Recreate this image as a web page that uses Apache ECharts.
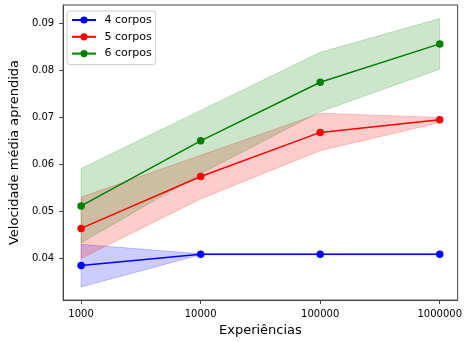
<!DOCTYPE html>
<html>
<head>
<meta charset="utf-8">
<script src="https://cdn.jsdelivr.net/npm/echarts@6/dist/echarts.min.js"></script>
<style>html,body{margin:0;padding:0;background:#fff}#c{width:465px;height:342px}</style>
</head>
<body>
<div id="c"></div>
<script>
const categories = [1000, 10000, 100000, 1000000];
const xTicks = [1000, 10000, 100000, 1000000];
const yTicks = [0.04, 0.05, 0.06, 0.07, 0.08, 0.09];

const names = ['4 corpos', '5 corpos', '6 corpos'];
const v4 = [0.0384, 0.0408, 0.0408, 0.0408];
const lo4 = [0.0338, 0.0407, 0.0407, 0.0407];
const hi4 = [0.0429, 0.0409, 0.0409, 0.0409];
const v5 = [0.0463, 0.0574, 0.0668, 0.0695];
const lo5 = [0.0399, 0.0526, 0.0629, 0.0689];
const hi5 = [0.0530, 0.0619, 0.0709, 0.0700];
const v6 = [0.0511, 0.0650, 0.0775, 0.0857];
const lo6 = [0.0432, 0.0580, 0.0712, 0.0803];
const hi6 = [0.0591, 0.0715, 0.0839, 0.0911];

const colors = ['#0000ff', '#ff0000', '#008000'];
const fills = ['rgba(0,0,255,0.2)', 'rgba(255,0,0,0.2)', 'rgba(0,128,0,0.2)'];
const vals = [v4, v5, v6], los = [lo4, lo5, lo6], his = [hi4, hi5, hi6];

const FONT = 'DejaVu Sans';
const series = [];
for (let i = 0; i < 3; i++) {
  series.push({
    name: 'band' + i, type: 'custom', silent: true, z: 1,
    data: categories.map((c, k) => [c, los[i][k], his[i][k]]),
    encode: {x: 0, y: [1, 2]},
    renderItem: function (params, api) {
      if (params.dataIndexInside !== 0) return null;
      const n = params.dataInsideLength;
      const upper = [], lower = [];
      for (let k = 0; k < n; k++) {
        const x = api.value(0, k);
        upper.push(api.coord([x, api.value(2, k)]));
        lower.push(api.coord([x, api.value(1, k)]));
      }
      const pts = upper.concat(lower.reverse());
      return {
        type: 'polygon',
        shape: {points: pts},
        style: {fill: fills[i], stroke: fills[i], lineWidth: 1}
      };
    }
  });
}
for (let i = 0; i < 3; i++) {
  series.push({
    name: names[i], type: 'line', symbol: 'circle', symbolSize: 7.5,
    data: categories.map((c, k) => [c, vals[i][k]]),
    itemStyle: {color: colors[i]}, lineStyle: {color: colors[i], width: 1.5}, z: 5
  });
}

const chart = echarts.init(document.getElementById('c'), null, {renderer: 'canvas'});
chart.setOption({
  animation: false,
  backgroundColor: '#fff',
  grid: {left: 63, right: 6, top: 5, bottom: 41, show: true, borderColor: '#444', borderWidth: 1, backgroundColor: 'transparent'},
  legend: {
    data: names, orient: 'vertical', left: 67, top: 11,
    padding: [3, 4, 5, 4], itemGap: 4.8, itemWidth: 24, itemHeight: 9,
    backgroundColor: 'rgba(255,255,255,0.8)', borderColor: '#ccc', borderWidth: 1, borderRadius: 3,
    textStyle: {fontFamily: FONT, fontSize: 11, color: '#000', lineHeight: 12, padding: [0, 0, 0, 3.5]}
  },
  xAxis: {
    type: 'log', logBase: 10,
    min: Math.pow(10, 2.85), max: Math.pow(10, 6.15),
    name: 'Experiências', nameLocation: 'middle', nameGap: 22,
    nameTextStyle: {fontFamily: FONT, fontSize: 13, color: '#000'},
    axisLine: {show: true, lineStyle: {color: '#444', width: 1}},
    axisTick: {show: true, length: 4, customValues: xTicks, lineStyle: {color: '#444'}},
    axisLabel: {customValues: xTicks, fontFamily: FONT, fontSize: 10, color: '#000', margin: 9,
      formatter: v => String(Math.round(v))},
    splitLine: {show: false}, minorTick: {show: false}
  },
  yAxis: {
    type: 'value', min: 0.031, max: 0.094,
    name: 'Velocidade média aprendida', nameLocation: 'middle', nameGap: 37,
    nameTextStyle: {fontFamily: FONT, fontSize: 13, color: '#000'},
    axisLine: {show: true, lineStyle: {color: '#444', width: 1}},
    axisTick: {show: true, length: 4, customValues: yTicks, lineStyle: {color: '#444'}},
    axisLabel: {customValues: yTicks, fontFamily: FONT, fontSize: 10, color: '#000', margin: 9,
      formatter: v => v.toFixed(2)},
    splitLine: {show: false}
  },
  series: series
});
</script>
</body>
</html>
